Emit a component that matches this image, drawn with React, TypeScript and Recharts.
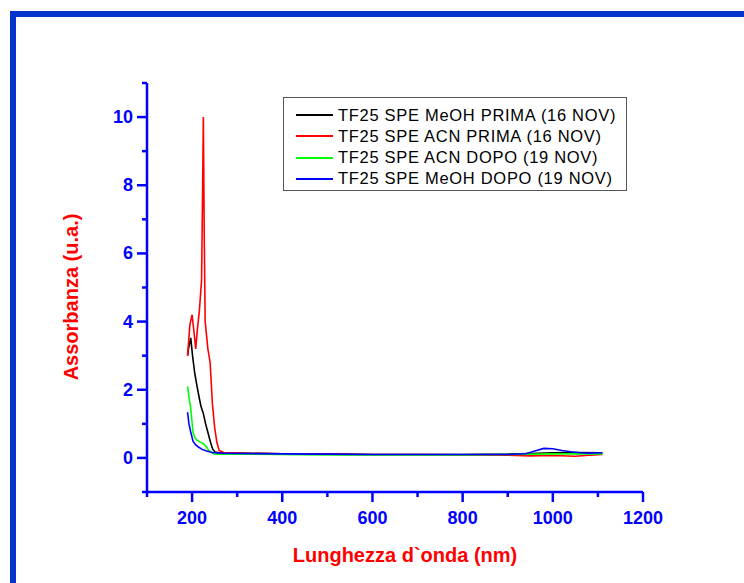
import { LineChart, Line, XAxis, YAxis } from "recharts";

// wavelength (nm) / absorbance (u.a.)
const meohPrimaNm = [190, 192, 197, 201, 206, 211, 216, 220, 225, 230, 236, 241, 246, 251, 260, 300, 400, 500, 600, 700, 800, 900, 950, 1000, 1050, 1110];
const meohPrimaAbs = [3.0, 3.2, 3.52, 3.0, 2.47, 2.1, 1.75, 1.5, 1.3, 1.0, 0.7, 0.45, 0.25, 0.17, 0.15, 0.14, 0.12, 0.11, 0.1, 0.1, 0.1, 0.11, 0.13, 0.15, 0.16, 0.15];

const acnPrimaNm = [190, 195, 200, 205, 208, 212, 216, 221, 223, 225, 227, 229, 235, 240, 245, 250, 255, 260, 270, 300, 400, 500, 600, 700, 800, 900, 950, 1000, 1050, 1080, 1110];
const acnPrimaAbs = [3.0, 3.9, 4.2, 3.6, 3.2, 3.8, 4.3, 5.2, 7.5, 10.0, 6.5, 4.0, 3.2, 2.8, 1.6, 0.9, 0.45, 0.22, 0.16, 0.14, 0.12, 0.11, 0.1, 0.1, 0.09, 0.08, 0.06, 0.07, 0.05, 0.08, 0.1];

const acnDopoNm = [190, 193, 197, 202, 206, 210, 217, 225, 230, 236, 242, 247, 255, 270, 300, 400, 500, 600, 700, 800, 900, 1000, 1110];
const acnDopoAbs = [2.1, 1.8, 1.45, 0.75, 0.6, 0.53, 0.47, 0.42, 0.35, 0.24, 0.17, 0.12, 0.11, 0.11, 0.11, 0.1, 0.09, 0.09, 0.09, 0.09, 0.1, 0.12, 0.12];

const meohDopoNm = [190, 193, 197, 202, 208, 214, 222, 232, 245, 262, 300, 400, 500, 600, 700, 800, 900, 940, 960, 980, 1000, 1020, 1040, 1060, 1080, 1110];
const meohDopoAbs = [1.34, 1.0, 0.76, 0.49, 0.38, 0.32, 0.25, 0.2, 0.16, 0.14, 0.13, 0.12, 0.11, 0.1, 0.1, 0.1, 0.1, 0.12, 0.2, 0.28, 0.27, 0.22, 0.18, 0.15, 0.14, 0.15];

const seriesNames = [
  "TF25 SPE MeOH PRIMA (16 NOV)",
  "TF25 SPE ACN PRIMA (16 NOV)",
  "TF25 SPE ACN DOPO (19 NOV)",
  "TF25 SPE MeOH DOPO (19 NOV)",
];
const seriesColors = ["#000000", "#ff0000", "#00ff00", "#0000ff"];

const xTicks = [100, 200, 300, 400, 500, 600, 700, 800, 900, 1000, 1100, 1200];
const yTicks = [-1, 0, 1, 2, 3, 4, 5, 6, 7, 8, 9, 10, 11];

const toPoints = (nm: number[], abs: number[]) => nm.map((x, i) => ({ x, y: abs[i] }));
const seriesData = [
  toPoints(meohPrimaNm, meohPrimaAbs),
  toPoints(acnPrimaNm, acnPrimaAbs),
  toPoints(acnDopoNm, acnDopoAbs),
  toPoints(meohDopoNm, meohDopoAbs),
];

const AXIS = "#0000ff";
const FONT = "Liberation Sans, Arial, sans-serif";
const LEFT = 147;
const BOTTOM = 492;

const YTick = (props: any) => {
  const { y, payload } = props;
  const v = payload.value;
  const major = v % 2 === 0;
  return (
    <g>
      <line x1={LEFT - (major ? 10 : 5)} x2={LEFT} y1={y} y2={y} stroke={AXIS} strokeWidth={2.5} />
      {major && (
        <text x={LEFT - 14} y={y} dy={6} textAnchor="end" fill={AXIS} fontSize={18} fontWeight="bold" fontFamily={FONT}>
          {v}
        </text>
      )}
    </g>
  );
};

const XTick = (props: any) => {
  const { x, payload } = props;
  const v = payload.value;
  const major = v % 200 === 0;
  return (
    <g>
      <line x1={x} x2={x} y1={BOTTOM} y2={BOTTOM + (major ? 10 : 5)} stroke={AXIS} strokeWidth={2.5} />
      {major && (
        <text x={x} y={BOTTOM + 32} textAnchor="middle" fill={AXIS} fontSize={18} fontWeight="bold" fontFamily={FONT}>
          {v}
        </text>
      )}
    </g>
  );
};

export default function App() {
  return (
    <div style={{ position: "absolute", left: 0, top: 0, width: 744, height: 583, background: "#fff", overflow: "hidden", fontFamily: FONT }}>
      <div style={{ position: "absolute", left: 10, top: 11, width: 800, height: 700, borderTop: "6px solid #0533cc", borderLeft: "6px solid #0533cc" }} />
      <LineChart width={744} height={583} margin={{ top: 83, right: 101, bottom: 61, left: 87 }} style={{ position: "absolute", left: 0, top: 0 }}>
        <XAxis
          dataKey="x"
          type="number"
          domain={[100, 1200]}
          ticks={xTicks}
          height={30}
          interval={0}
          tickLine={false}
          axisLine={{ stroke: AXIS, strokeWidth: 2.5 }}
          tick={<XTick />}
          allowDataOverflow
        />
        <YAxis
          type="number"
          domain={[-1, 11]}
          ticks={yTicks}
          width={60}
          interval={0}
          tickLine={false}
          axisLine={{ stroke: AXIS, strokeWidth: 2.5 }}
          tick={<YTick />}
          allowDataOverflow
        />
        {seriesData.map((d, i) => (
          <Line
            key={seriesNames[i]}
            data={d}
            dataKey="y"
            name={seriesNames[i]}
            type="linear"
            stroke={seriesColors[i]}
            strokeWidth={1.6}
            dot={false}
            isAnimationActive={false}
          />
        ))}
      </LineChart>
      <svg width={744} height={583} style={{ position: "absolute", left: 0, top: 0, pointerEvents: "none" }}>
        <text x={71} y={297} transform="rotate(-90 71 297)" textAnchor="middle" dy={7} fill="#ff0000" fontSize={20} fontWeight="bold" fontFamily={FONT}>
          Assorbanza (u.a.)
        </text>
        <text x={405} y={562} textAnchor="middle" fill="#ff0000" fontSize={20} fontWeight="bold" fontFamily={FONT}>
          Lunghezza d`onda (nm)
        </text>
      </svg>
      <div style={{ position: "absolute", left: 283, top: 97, width: 342, height: 92, border: "1px solid #555", background: "#fff", boxSizing: "content-box" }}>
        {seriesNames.map((n, i) => (
          <div key={n} style={{ position: "absolute", left: 0, top: 7 + i * 21.3, height: 20, display: "flex", alignItems: "center" }}>
            <div style={{ marginLeft: 12, width: 37, height: 2, background: seriesColors[i] }} />
            <span style={{ marginLeft: 5, fontSize: 16.5, letterSpacing: 0.7, color: "#000", whiteSpace: "nowrap" }}>{n}</span>
          </div>
        ))}
      </div>
    </div>
  );
}
